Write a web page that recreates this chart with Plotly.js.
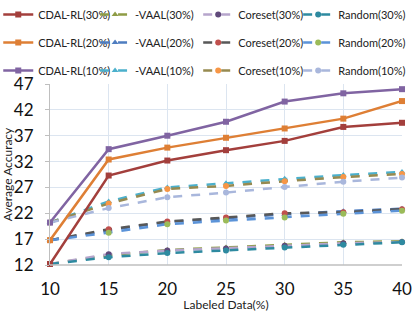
<!DOCTYPE html>
<html><head><meta charset="utf-8">
<script src="https://cdn.plot.ly/plotly-3.0.1.min.js"></script>
<style>html,body{margin:0;padding:0;background:#fff;}#chart{width:415px;height:312px;}</style>
</head><body><div id="chart"></div>
<script>
const labeled = [10, 15, 20, 25, 30, 35, 40];
const cdal30 = [12.2, 29.3, 32.2, 34.2, 36.0, 38.7, 39.5];
const vaal30 = [12.2, 13.9, 14.9, 15.4, 15.9, 16.4, 16.6];
const coreset30 = [12.2, 14.1, 14.8, 15.2, 15.7, 16.2, 16.45];
const random30 = [12.2, 13.5, 14.3, 14.8, 15.4, 15.9, 16.4];
const cdal20 = [16.8, 32.4, 34.7, 36.6, 38.4, 40.3, 43.7];
const vaal20 = [16.8, 18.7, 20.3, 21.1, 21.8, 22.4, 22.9];
const coreset20 = [16.8, 18.9, 20.4, 21.2, 22.0, 22.2, 22.8];
const random20 = [16.8, 18.25, 19.9, 20.6, 21.2, 21.9, 22.5];
const cdal10 = [20.2, 34.4, 37.0, 39.7, 43.6, 45.2, 46.0];
const vaal10 = [20.2, 24.3, 27.0, 27.8, 28.7, 29.4, 30.0];
const coreset10 = [20.2, 23.9, 26.7, 27.3, 28.2, 29.0, 29.6];
const random10 = [20.2, 23.0, 25.1, 26.0, 27.1, 28.1, 28.9];

const names = ['CDAL-RL(30%)','-VAAL(30%)','Coreset(30%)','Random(30%)',
               'CDAL-RL(20%)','-VAAL(20%)','Coreset(20%)','Random(20%)',
               'CDAL-RL(10%)','-VAAL(10%)','Coreset(10%)','Random(10%)'];
const series = [cdal30, vaal30, coreset30, random30, cdal20, vaal20, coreset20, random20, cdal10, vaal10, coreset10, random10];
const lineColors = ['#A33F3C','#8E9C45','#B6A5CC','#2E8AA0',
                    '#DE7F35','#4E7DC0','#585858','#5B93D8',
                    '#8064A2','#4BB0CC','#968A50','#A9B7DC'];
const markerColors = ['#A33F3C','#8E9C45','#604A7B','#2E8AA0',
                      '#DE7F35','#4E7DC0','#C0504D','#9BBB59',
                      '#8064A2','#4BB0CC','#F79646','#A9B7DC'];
const symbols = ['square','triangle-up','circle','circle'];
const legendIds = ['legend','legend2','legend3','legend4'];

const traces = series.map((ys, i) => {
  const k = i % 4;
  return {
    x: labeled, y: ys, name: names[i], type: 'scatter', mode: 'lines+markers',
    legend: legendIds[k], legendgroup: 'g' + i, legendrank: i + 1,
    line: {color: lineColors[i], width: 2.5, dash: k === 0 ? 'solid' : 'dash'},
    marker: {color: markerColors[i], symbol: symbols[k], size: 6},
    cliponaxis: false
  };
});
// draw order: keep CDAL on top
const ordered = traces.filter((t,i)=>i%4!==0).concat(traces.filter((t,i)=>i%4===0));

const font = 'Lato, "Open Sans", sans-serif';
const legendBase = {orientation: 'v', itemwidth: 30, tracegroupgap: 9,
  font: {family: font, size: 11, color: '#222'}, bgcolor: 'rgba(0,0,0,0)', xanchor: 'left', yanchor: 'top', y: 1.464,
  traceorder: 'grouped', itemclick: false};
const layout = {
  width: 415, height: 312,
  margin: {l: 50, r: 13, t: 84, b: 47, autoexpand: false},
  paper_bgcolor: '#fff', plot_bgcolor: '#fff',
  font: {family: font, color: '#222'},
  xaxis: {range: [10, 40], tickvals: labeled, ticks: '', showgrid: true, gridcolor: '#DCE5F0', gridwidth: 1,
    zeroline: false, showline: false, tickfont: {size: 17, color: '#111'}, ticklabelstandoff: 12,
    title: {text: 'Labeled Data(%)', font: {size: 12, color: '#222'}, standoff: 5}},
  yaxis: {range: [12, 47], tickvals: [12,17,22,27,32,37,42,47], ticks: 'outside', ticklen: 4, tickcolor: '#BFBFBF',
    showgrid: true, gridcolor: '#DCE5F0', gridwidth: 1, zeroline: false, ticklabelstandoff: 8,
    showline: true, linecolor: '#BFBFBF', linewidth: 1, tickfont: {size: 17, color: '#111'},
    title: {text: 'Average Accuracy', font: {size: 12, color: '#222'}, standoff: 0}},
  shapes: [{type: 'line', xref: 'paper', yref: 'paper', x0: 0, x1: 1, y0: 0, y1: 0, line: {color: '#BFBFBF', width: 1.5}}],
  legend: Object.assign({}, legendBase, {x: -0.147}),
  legend2: Object.assign({}, legendBase, {x: 0.128}),
  legend3: Object.assign({}, legendBase, {x: 0.421}),
  legend4: Object.assign({}, legendBase, {x: 0.705}),
  showlegend: true
};
Plotly.newPlot('chart', ordered, layout, {displayModeBar: false, staticPlot: true});
</script></body></html>
